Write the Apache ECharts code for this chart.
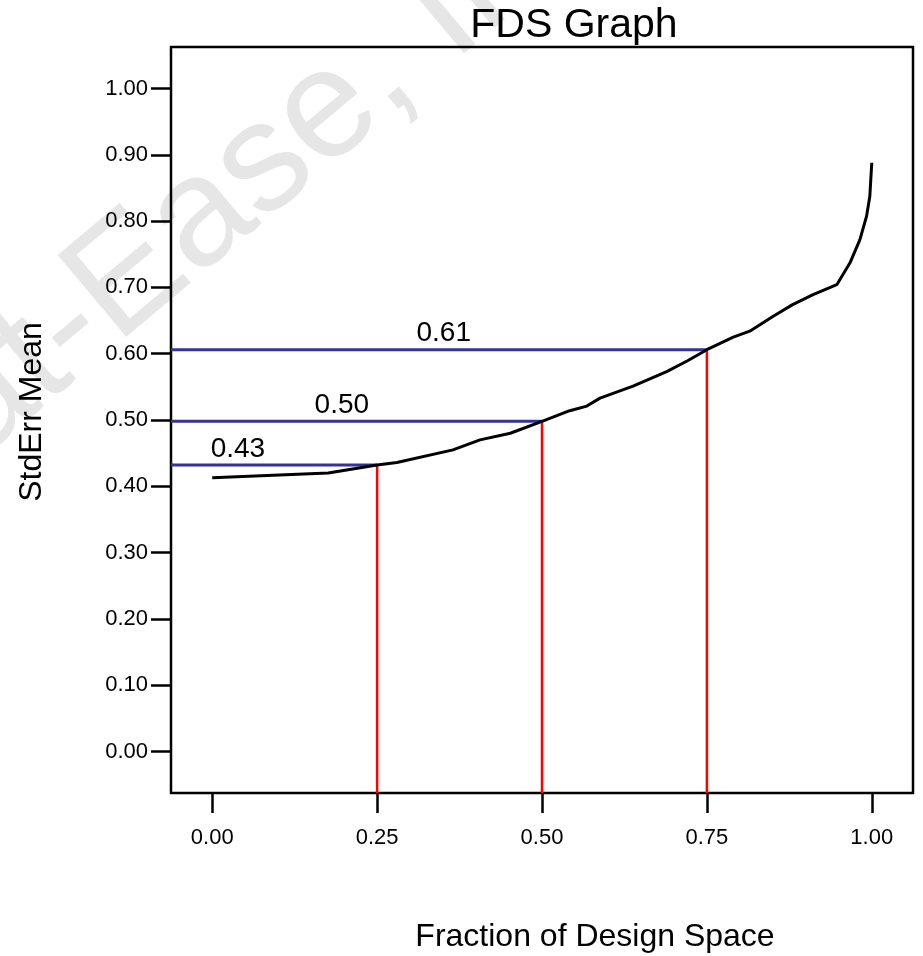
<!DOCTYPE html>
<html>
<head>
<meta charset="utf-8">
<script src="https://cdn.jsdelivr.net/npm/echarts@6/dist/echarts.min.js"></script>
<style>
html,body{margin:0;padding:0;background:#fff;}
#chart{width:923px;height:956px;}
</style>
</head>
<body>
<div id="chart"></div>
<script>
// ---- data ----
const titleText = 'FDS Graph';
const xAxisTitle = 'Fraction of Design Space';
const yAxisTitle = 'StdErr Mean';
const watermarkText = 'Stat-Ease, Inc.';

const fraction = [0, 0.176, 0.25, 0.28, 0.365, 0.406, 0.452, 0.50, 0.542, 0.568, 0.588, 0.638, 0.689, 0.72, 0.75, 0.79, 0.815, 0.85, 0.88, 0.911, 0.947, 0.967, 0.982, 0.992, 0.997, 1.0];
const stdErr   = [0.413, 0.420, 0.432, 0.436, 0.455, 0.470, 0.480, 0.498, 0.514, 0.521, 0.533, 0.551, 0.573, 0.589, 0.606, 0.625, 0.634, 0.656, 0.674, 0.689, 0.704, 0.737, 0.772, 0.807, 0.837, 0.888];

const fdsFractions = [0.25, 0.5, 0.75];
const fdsValues = [0.432, 0.498, 0.606];
const fdsLabels = ['0.43', '0.50', '0.61'];
const fdsLabelX = [0.039, 0.1965, 0.351];

const xTicks = [0, 0.25, 0.5, 0.75, 1];
const yTicks = [0, 0.1, 0.2, 0.3, 0.4, 0.5, 0.6, 0.7, 0.8, 0.9, 1.0];
const axisMin = -0.0625, axisMax = 1.0625;

// ---- chart ----
const FONT = '"Liberation Sans", Arial, sans-serif';
const chart = echarts.init(document.getElementById('chart'), null, {renderer: 'canvas'});

const series = [];
fdsFractions.forEach((f, i) => {
  series.push({
    type: 'line', silent: true, symbol: 'none', z: 3,
    lineStyle: {color: '#333399', width: 3},
    data: [[axisMin, fdsValues[i]], [f, fdsValues[i]]]
  });
  series.push({
    type: 'line', silent: true, symbol: 'none', z: 3,
    lineStyle: {color: '#ff0000', width: 2.5},
    data: [[f, fdsValues[i]], [f, axisMin]]
  });
});
series.push({
  type: 'line', silent: true, symbol: 'none', z: 5,
  lineStyle: {color: '#000', width: 3},
  data: fraction.map((x, i) => [x, stdErr[i]])
});
series.push({
  type: 'scatter', silent: true, symbolSize: 0, z: 6,
  itemStyle: {opacity: 1},
  data: fdsLabelX.map((x, i) => ({value: [x, fdsValues[i]], name: fdsLabels[i]})),
  label: {
    show: true, position: 'top', distance: 2,
    formatter: p => p.name,
    fontFamily: FONT, fontSize: 28, color: '#000', opacity: 1
  }
});

const option = {
  animation: false,
  backgroundColor: '#fff',
  grid: {
    left: 171, top: 47, width: 742, height: 746,
    show: true, borderColor: '#000', borderWidth: 2.5, backgroundColor: 'transparent'
  },
  xAxis: {
    type: 'value', min: axisMin, max: axisMax,
    axisLine: {show: false, onZero: false},
    splitLine: {show: false},
    axisTick: {show: true, length: 20, inside: false, customValues: xTicks, lineStyle: {color: '#000', width: 2.5}},
    axisLabel: {
      show: true, customValues: xTicks, margin: 34,
      formatter: v => v.toFixed(2),
      fontFamily: FONT, fontSize: 22, color: '#000'
    }
  },
  yAxis: {
    type: 'value', min: axisMin, max: axisMax,
    axisLine: {show: false, onZero: false},
    splitLine: {show: false},
    axisTick: {show: true, length: 20, inside: false, customValues: yTicks, lineStyle: {color: '#000', width: 2.5}},
    axisLabel: {
      show: true, customValues: yTicks, margin: 23,
      formatter: v => v.toFixed(2),
      fontFamily: FONT, fontSize: 22, color: '#000'
    }
  },
  graphic: [
    {
      type: 'text', x: -127, y: 564, rotation: 0.698, z: -10, silent: true,
      style: {text: watermarkText, x: 0, y: -54, font: '155px ' + FONT, fill: '#e6e6e6', textAlign: 'left', textVerticalAlign: 'middle'}
    },
    {
      type: 'text', x: 574, y: 26, silent: true,
      style: {text: titleText, font: '41px ' + FONT, fill: '#000', textAlign: 'center', textVerticalAlign: 'middle'}
    },
    {
      type: 'text', x: 595, y: 937, silent: true,
      style: {text: xAxisTitle, font: '32px ' + FONT, fill: '#000', textAlign: 'center', textVerticalAlign: 'middle'}
    },
    {
      type: 'text', x: 32, y: 412, rotation: Math.PI / 2, silent: true,
      style: {text: yAxisTitle, font: '32px ' + FONT, fill: '#000', textAlign: 'center', textVerticalAlign: 'middle'}
    }
  ],
  series: series
};
chart.setOption(option);
</script>
</body>
</html>
